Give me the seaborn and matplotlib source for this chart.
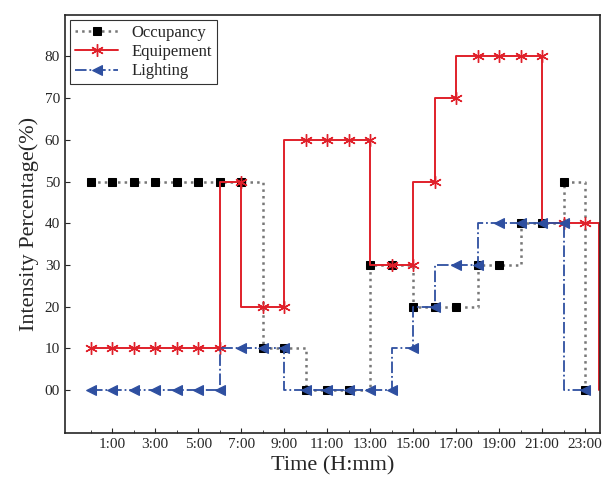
import matplotlib
matplotlib.use("Agg")
import matplotlib.pyplot as plt
import seaborn as sns
import pandas as pd

hours = list(range(24))
occupancy = [50]*8 + [10, 10] + [0, 0, 0] + [30, 30] + [20, 20, 20] + [30, 30] + [40, 40] + [50] + [0]
equipment = [10]*7 + [50] + [20, 20] + [60]*4 + [30, 30] + [50] + [70] + [80]*4 + [40, 40]
lighting = [0]*7 + [10]*3 + [0]*5 + [10] + [20] + [30, 30] + [40]*4 + [0]
tick_hours = list(range(1, 24, 2))
tick_labels = [f"{h}:00" for h in tick_hours]
ytick_vals = list(range(0, 90, 10))
ytick_labels = ["00"] + [str(v) for v in ytick_vals[1:]]

sns.set_style("ticks")
plt.rcParams['font.family'] = ['Liberation Serif', 'DejaVu Serif']

fig = plt.figure(figsize=(6.13, 4.93), dpi=100)
ax = fig.add_axes([0.106, 0.122, 0.873, 0.848])

df = pd.DataFrame({"h": hours, "occ": occupancy, "eq": equipment, "li": lighting})
sns.lineplot(data=df, x="h", y="occ", ax=ax, drawstyle="steps-post", color="#777777",
             linestyle=":", linewidth=1.8, marker="s", markersize=5.5, markerfacecolor="black",
             markeredgecolor="black", label="Occupancy")
sns.lineplot(data=df, x="h", y="eq", ax=ax, drawstyle="steps-pre", color="#e0202a",
             linestyle="-", linewidth=1.4, marker=(6, 2, 0), markersize=9, markeredgewidth=1.0,
             markeredgecolor="#e0202a", label="Equipement")
sns.lineplot(data=df, x="h", y="li", ax=ax, drawstyle="steps-pre", color="#2e4fa0",
             linestyle="-.", linewidth=1.3, marker="<", markersize=7, markerfacecolor="#2e4fa0",
             markeredgecolor="#2e4fa0", label="Lighting")
ax.plot([23, 23.65, 23.65], [40, 40, 0], color="#e0202a", linewidth=1.4)

ax.set_xlim(-1.2, 23.7)
ax.set_ylim(-10.3, 90)
ax.set_xticks(tick_hours)
ax.set_xticklabels(tick_labels, fontsize=11)
ax.set_xticks(hours, minor=True)
ax.set_yticks(ytick_vals)
ax.set_yticklabels(ytick_labels, fontsize=11)
ax.tick_params(direction="in", which="both", top=False, right=False)
for s in ax.spines.values():
    s.set_linewidth(1.2)
ax.set_xlabel("Time (H:mm)", fontsize=16)
ax.set_ylabel("Intensity Percentage(%)", fontsize=16)
leg = ax.legend(loc="upper left", frameon=True, fancybox=False, edgecolor="black",
                fontsize=12, handlelength=2.6, borderaxespad=0.3, labelspacing=0.2,
                borderpad=0.3)
leg.get_frame().set_linewidth(0.8)
fig.savefig("out.png", dpi=100)
